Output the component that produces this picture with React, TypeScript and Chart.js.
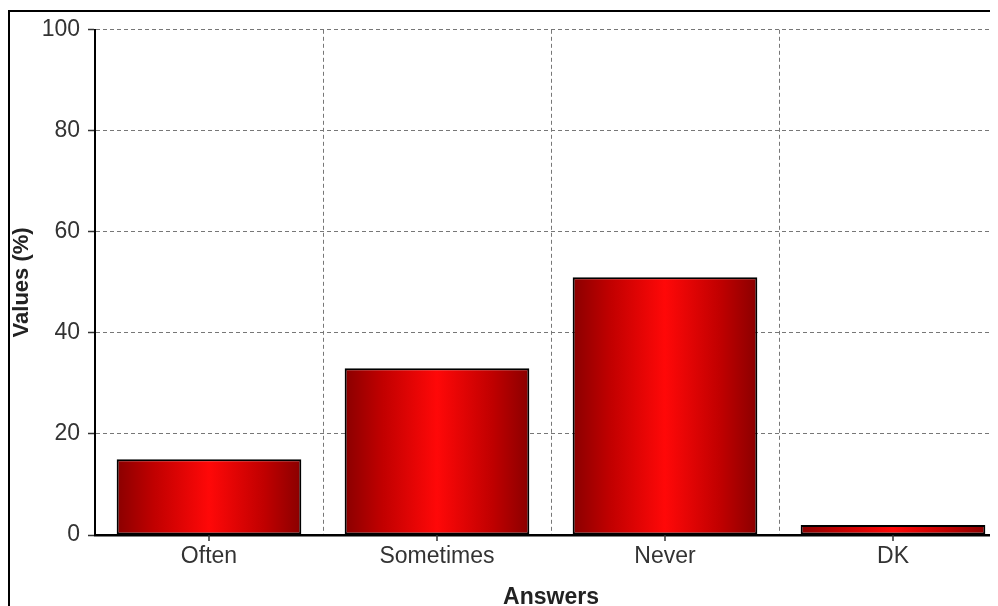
import React, { useEffect, useRef } from "react";
import { Chart, registerables } from "chart.js";

Chart.register(...registerables);

const categories = ["Often", "Sometimes", "Never", "DK"];
const values = [15, 33, 51, 2];
const yTicks = [0, 20, 40, 60, 80, 100];

const FONT = "'Liberation Sans', Arial, sans-serif";

const centerTicks = {
  id: "centerTicks",
  afterDraw(chart: any) {
    const x = chart.scales.x;
    const ctx = chart.ctx;
    ctx.save();
    ctx.strokeStyle = "#333";
    ctx.lineWidth = 1.5;
    categories.forEach((_, i) => {
      const px = x.getPixelForValue(i);
      ctx.beginPath();
      ctx.moveTo(px, x.top);
      ctx.lineTo(px, x.top + 6);
      ctx.stroke();
    });
    ctx.restore();
  },
};

export default function App() {
  const ref = useRef<HTMLCanvasElement | null>(null);
  useEffect(() => {
    if (!ref.current) return;
    const chart = new Chart(ref.current, {
      type: "bar",
      data: {
        labels: categories,
        datasets: [
          {
            data: values,
            backgroundColor: (c: any) => {
              const ch = c.chart;
              const xs = ch.scales?.x;
              if (!xs || c.dataIndex === undefined) return "#e00000";
              const cx = xs.getPixelForValue(c.dataIndex);
              const w = (xs.width / categories.length) * 0.81;
              if (!isFinite(cx) || !isFinite(w) || w <= 0) return "#e00000";
              const g = ch.ctx.createLinearGradient(cx - w / 2, 0, cx + w / 2, 0);
              g.addColorStop(0, "#8a0000");
              g.addColorStop(0.2, "#c00000");
              g.addColorStop(0.5, "#ff0808");
              g.addColorStop(0.8, "#c00000");
              g.addColorStop(1, "#8a0000");
              return g;
            },
            borderColor: "#000",
            borderWidth: 2,
            borderSkipped: false,
            categoryPercentage: 1,
            barPercentage: 0.81,
          },
        ],
      },
      options: {
        responsive: false,
        animation: false,
        layout: { padding: { top: 16, right: 21, left: 0, bottom: 0 } },
        plugins: { legend: { display: false }, tooltip: { enabled: false } },
        scales: {
          x: {
            afterFit: (s: any) => {
              s.height = 71;
            },
            grid: {
              offset: true,
              color: "#777",
              drawTicks: false,
              lineWidth: 1,
            },
            border: { color: "#000", width: 2.5, dash: [4, 3] },
            ticks: {
              padding: 8,
              color: "#333",
              font: { family: FONT, size: 23 },
            },
            title: {
              display: true,
              text: "Answers",
              color: "#222",
              font: { family: FONT, size: 23, weight: "bold", lineHeight: 0.7 },
              padding: { top: 0, bottom: 0 },
            },
          },
          y: {
            min: 0,
            max: 100,
            afterFit: (s: any) => {
              s.width = 87;
            },
            afterBuildTicks: (s: any) => {
              s.ticks = yTicks.map((v) => ({ value: v }));
            },
            grid: {
              color: "#777",
              tickBorderDash: [],
              tickColor: "#333",
              tickLength: 7,
              tickWidth: 1.5,
              lineWidth: 1,
            },
            border: { color: "#000", width: 2, dash: [4, 3] },
            ticks: {
              padding: 8,
              color: "#333",
              font: { family: FONT, size: 23 },
            },
            title: {
              display: true,
              text: "Values (%)",
              color: "#222",
              font: { family: FONT, size: 22, weight: "bold" },
              padding: { top: 1, bottom: 0 },
            },
          },
        },
      },
      plugins: [centerTicks],
    });
    return () => chart.destroy();
  }, []);

  return (
    <div style={{ position: "relative", width: 990, height: 598, overflow: "hidden", background: "#fff" }}>
      <div
        style={{
          position: "absolute",
          left: 0,
          top: 2,
          width: 2000,
          height: 2000,
          borderLeft: "2px solid #000",
          borderTop: "2px solid #000",
        }}
      />
      <canvas ref={ref} width={1020} height={598} style={{ position: "absolute", left: 0, top: 0, display: "block" }} />
    </div>
  );
}
